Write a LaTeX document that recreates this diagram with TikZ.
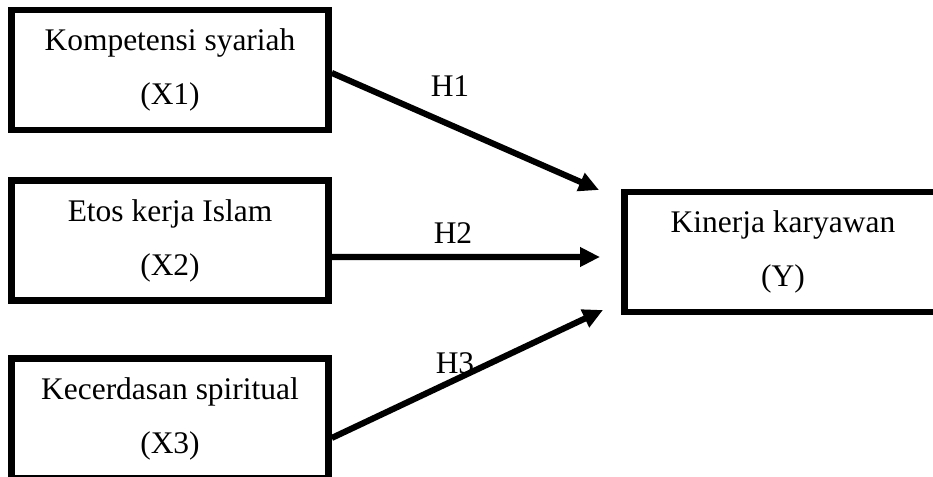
\documentclass[tikz,border=0pt]{standalone}
\usepackage{fontspec}
\setmainfont{Liberation Serif}
\usetikzlibrary{arrows.meta}
\begin{document}
\begin{tikzpicture}[x=0.75pt,y=-0.75pt,
    var/.style={draw,line width=4.9pt,minimum width=237.75pt,minimum height=90pt,
      inner sep=0pt,align=center,font=\fontsize{23.6}{40.5}\selectfont},
    arr/.style={line width=4.6pt,-{Triangle[length=15pt,width=14pt]}},
    lab/.style={anchor=base,font=\fontsize{23.6}{28}\selectfont}]
    \useasboundingbox (0,0) rectangle (933,477);
    % variables
    \node[var] (x1) at (170,70) {Kompetensi syariah\\(X1)};
    \node[var] (x2) at (170,240.5) {Etos kerja Islam\\(X2)};
    \node[var] (x3) at (170,418.5) {Kecerdasan spiritual\\(X3)};
    \node[var] (y) at (783,252) {Kinerja karyawan\\(Y)};
    % arrow ends
    \coordinate (t1) at (599,190);
    \coordinate (t2) at (600,257);
    \coordinate (t3) at (603,310);
    \draw[arr] ([yshift=-2.2pt]x1.east) -- (t1);
    \draw[arr] ([yshift=-12.4pt]x2.east) -- (t2);
    \draw[arr] ([yshift=-14.6pt]x3.east) -- (t3);
    \node[lab] (h1) at (450,97) {H1};
    \node[lab] (h2) at (453,244) {H2};
    \node[lab] (h3) at (455,374) {H3};
\end{tikzpicture}
\end{document}
